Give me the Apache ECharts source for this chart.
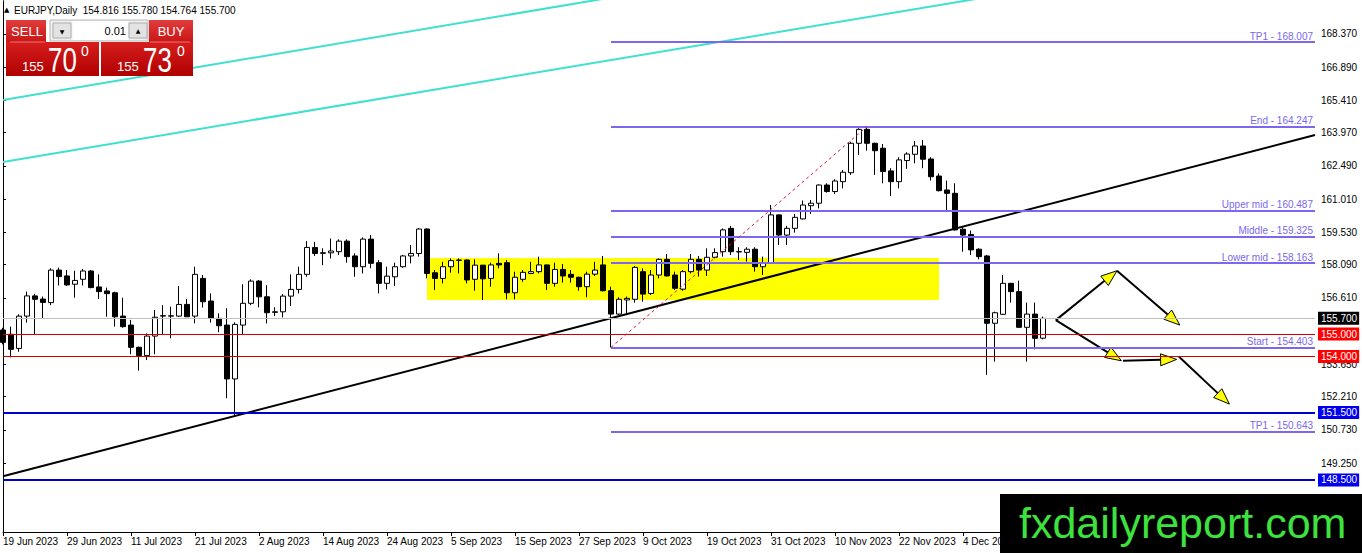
<!DOCTYPE html>
<html><head><meta charset="utf-8">
<script src="https://cdn.jsdelivr.net/npm/echarts@6/dist/echarts.min.js"></script>
<style>html,body{margin:0;padding:0;background:#fff}#c{width:1362px;height:553px}</style>
</head><body><div id="c"></div>
<script>
// ---------- DATA ----------
const tradingDays = [
'19 Jun 2023','20 Jun 2023','21 Jun 2023','22 Jun 2023','23 Jun 2023','26 Jun 2023','27 Jun 2023','28 Jun 2023','29 Jun 2023','30 Jun 2023',
'3 Jul 2023','4 Jul 2023','5 Jul 2023','6 Jul 2023','7 Jul 2023','10 Jul 2023','11 Jul 2023','12 Jul 2023','13 Jul 2023','14 Jul 2023',
'17 Jul 2023','18 Jul 2023','19 Jul 2023','20 Jul 2023','21 Jul 2023','24 Jul 2023','25 Jul 2023','26 Jul 2023','27 Jul 2023','28 Jul 2023','31 Jul 2023',
'1 Aug 2023','2 Aug 2023','3 Aug 2023','4 Aug 2023','7 Aug 2023','8 Aug 2023','9 Aug 2023','10 Aug 2023','11 Aug 2023','14 Aug 2023',
'15 Aug 2023','16 Aug 2023','17 Aug 2023','18 Aug 2023','21 Aug 2023','22 Aug 2023','23 Aug 2023','24 Aug 2023','25 Aug 2023','28 Aug 2023',
'29 Aug 2023','30 Aug 2023','31 Aug 2023',
'1 Sep 2023','4 Sep 2023','5 Sep 2023','6 Sep 2023','7 Sep 2023','8 Sep 2023','11 Sep 2023','12 Sep 2023','13 Sep 2023','14 Sep 2023',
'15 Sep 2023','18 Sep 2023','19 Sep 2023','20 Sep 2023','21 Sep 2023','22 Sep 2023','25 Sep 2023','26 Sep 2023','27 Sep 2023','28 Sep 2023','29 Sep 2023',
'2 Oct 2023','3 Oct 2023','4 Oct 2023','5 Oct 2023','6 Oct 2023','9 Oct 2023','10 Oct 2023','11 Oct 2023','12 Oct 2023','13 Oct 2023',
'16 Oct 2023','17 Oct 2023','18 Oct 2023','19 Oct 2023','20 Oct 2023','23 Oct 2023','24 Oct 2023','25 Oct 2023','26 Oct 2023','27 Oct 2023',
'30 Oct 2023','31 Oct 2023',
'1 Nov 2023','2 Nov 2023','3 Nov 2023','6 Nov 2023','7 Nov 2023','8 Nov 2023','9 Nov 2023','10 Nov 2023','13 Nov 2023','14 Nov 2023',
'15 Nov 2023','16 Nov 2023','17 Nov 2023','20 Nov 2023','21 Nov 2023','22 Nov 2023','23 Nov 2023','24 Nov 2023','27 Nov 2023','28 Nov 2023',
'29 Nov 2023','30 Nov 2023',
'1 Dec 2023','4 Dec 2023','5 Dec 2023','6 Dec 2023','7 Dec 2023','8 Dec 2023','11 Dec 2023','12 Dec 2023','13 Dec 2023','14 Dec 2023',
'15 Dec 2023','18 Dec 2023'
];
const openP = [
155.18,154.99,154.36,155.80,156.70,156.56,156.40,157.85,157.59,157.22,
157.44,157.81,157.10,156.92,156.84,155.80,155.40,154.41,154.04,154.91,
155.80,155.81,155.80,156.32,155.80,157.48,156.47,155.70,155.40,153.00,
155.40,156.37,157.36,156.66,155.99,155.99,156.69,156.99,157.66,158.86,
158.62,158.62,158.67,159.14,158.48,158.00,159.23,158.18,157.26,157.55,
158.00,158.48,158.59,159.68,157.73,157.48,158.00,158.28,158.30,157.44,
158.07,157.48,158.15,158.18,156.84,157.44,157.70,157.78,158.08,157.26,
157.88,157.66,157.53,157.11,157.67,158.08,156.93,155.89,156.52,156.55,
157.78,156.81,157.63,158.33,157.63,157.00,157.78,158.33,157.85,158.42,
158.67,159.71,158.67,158.64,158.78,158.00,158.18,160.31,159.41,159.71,
160.13,160.72,160.83,161.64,161.35,161.79,162.19,163.50,164.12,163.50,
163.28,162.27,161.79,162.73,163.01,163.38,162.80,162.04,161.42,161.27,
159.67,159.44,158.78,158.48,155.48,155.88,157.26,156.89,155.30,155.89,
154.816];
const highP = [
155.28,155.33,155.88,156.89,156.79,156.67,157.93,157.96,157.85,157.82,
157.90,157.85,157.66,157.07,156.89,156.62,155.63,154.44,155.03,156.07,
156.29,156.22,157.14,156.56,158.00,157.63,156.81,155.92,156.15,155.52,
157.22,157.44,157.41,157.18,156.19,156.78,157.66,158.00,159.14,159.11,
158.82,159.26,159.22,159.22,158.59,159.31,159.41,158.30,158.00,158.18,
158.52,158.97,159.72,159.71,157.85,158.22,158.37,158.37,158.33,158.33,
158.08,158.18,158.60,158.30,157.78,157.85,158.22,158.45,158.10,158.18,
158.12,157.85,157.56,157.78,158.22,158.48,157.11,156.64,156.67,158.03,
157.93,157.85,158.37,158.57,157.78,157.85,158.57,158.48,158.82,158.82,
159.71,159.82,158.87,158.87,158.87,158.45,160.75,160.33,159.82,160.35,
160.95,160.97,161.67,161.72,161.90,162.31,163.57,164.17,164.25,163.53,
163.47,162.39,162.88,163.10,163.60,163.65,162.88,162.16,161.84,161.72,
159.79,159.61,158.82,158.52,156.00,157.63,157.28,157.38,156.40,156.40,
155.78];
const lowP = [
154.54,153.96,154.21,155.51,155.00,155.70,156.29,157.16,157.14,156.62,
157.16,157.04,156.56,155.77,155.33,155.28,154.10,153.37,153.84,154.10,
154.96,154.81,155.77,155.76,155.48,156.18,155.51,155.08,152.14,151.32,
154.99,156.29,156.19,155.47,155.80,155.74,156.25,156.81,157.55,158.48,
158.07,158.37,158.52,158.18,157.55,157.70,157.93,156.81,156.99,157.14,
157.96,158.15,158.45,157.48,156.96,157.26,157.73,157.70,157.26,156.93,
156.52,157.11,157.93,156.55,156.55,157.33,157.67,157.70,156.96,157.11,
157.29,157.29,156.93,156.64,157.59,156.90,154.40,155.85,155.89,156.40,
156.44,156.74,157.48,157.56,156.96,156.93,157.70,157.56,157.59,158.37,
158.45,158.52,158.30,158.23,157.78,157.63,158.15,158.97,158.97,159.52,
160.11,160.35,160.60,161.30,161.24,161.49,162.09,162.98,163.17,162.09,
161.72,161.15,161.49,162.36,162.61,162.39,161.84,161.35,160.53,159.61,
158.67,158.52,158.33,153.18,153.77,155.85,156.40,155.28,153.77,154.32,
154.764];
const closeP = [
154.63,154.32,155.80,156.70,156.55,156.41,157.85,157.56,157.19,157.39,
157.81,157.07,156.89,156.80,155.77,155.33,154.41,154.04,154.91,155.75,
155.82,155.80,156.32,155.77,157.66,156.44,155.70,155.37,153.00,155.43,
156.37,157.36,156.66,155.95,155.97,156.69,156.99,157.66,158.86,158.59,
158.60,158.70,159.14,158.45,158.00,159.23,158.15,157.26,157.58,158.00,
158.48,158.59,159.68,157.70,157.48,158.00,158.27,158.30,157.41,158.07,
157.46,158.08,158.08,156.84,157.53,157.75,157.78,158.08,157.26,157.88,
157.59,157.53,157.11,157.67,157.85,156.93,155.89,156.55,156.59,157.97,
156.78,157.63,158.33,157.59,157.04,157.78,158.33,157.85,158.42,158.63,
159.64,158.67,158.66,158.78,158.00,158.15,160.31,159.41,159.71,160.20,
160.75,160.83,161.64,161.35,161.82,162.21,163.50,164.12,163.50,163.17,
162.24,161.79,162.76,163.02,163.38,162.79,162.01,161.39,161.27,159.64,
159.41,158.75,158.45,155.48,155.95,157.26,156.89,155.30,155.89,154.81,
155.70];
const yTickValues = [168.37,166.89,165.41,163.97,162.49,161.01,159.53,158.09,156.61,153.65,152.21,150.73,149.25];
const priceLevels = [155.70,155.00,154.00,151.50,148.50];
const fibLevels = [168.007,164.247,160.487,159.325,158.163,154.403,150.643];
const fibNames = ['TP1','End','Upper mid','Middle','Lower mid','Start','TP1'];
const fibStartIndex = 76;
const swingLine = [[76,154.403],[108,164.247]];
const zoneBox = [[53,158.39],[117,156.52]];
const trendBlack = [[0,148.66],[164,163.87]];
const trendCyanA = [[0,165.43],[164,175.28]];
const trendCyanB = [[0,162.67],[164,172.46]];
const arrowPaths = [
  [131.6,155.62,139.25,157.82],
  [139.25,157.82,147.1,155.40],
  [131.6,155.62,139.8,153.81],
  [140.0,153.81,146.7,153.87],
  [147.0,153.99,153.3,151.88]
];
const lastLabelIndex = 120;
const headerText = 'EURJPY,Daily  154.816 155.780 154.764 155.700';

// ---------- CHART ----------
const FONT = 'Liberation Sans, Arial, sans-serif';
const X_MAX = 164;
const candleData = tradingDays.map((d,i)=>[i, openP[i], closeP[i], lowP[i], highP[i]]);
const levelStyle = [
  {color:'#c0c0c0', width:1, bg:'#000000'},
  {color:'#d00000', width:1, bg:'#ff0000'},
  {color:'#d00000', width:1, bg:'#ff0000'},
  {color:'#0000cd', width:2, bg:'#0000ee'},
  {color:'#0000cd', width:2, bg:'#0000ee'}
];
const markLineData = [];
priceLevels.forEach((v,k)=>{
  const s = levelStyle[k];
  markLineData.push({yAxis:v, lineStyle:{color:s.color,width:s.width,type:'solid'},
    label:{show:true, position:'end', distance:3, formatter:v.toFixed(3), backgroundColor:s.bg, color:'#fff',
      padding:[2,2,1,3], fontSize:10, fontFamily:FONT}});
});
fibLevels.forEach((v,k)=>{
  markLineData.push([
    {coord:[fibStartIndex,v], lineStyle:{color:'#7b68ee',width:2,type:'solid'},
     label:{show:true, position:'insideEndTop', distance:[2,1], formatter:fibNames[k]+' - '+v.toFixed(3),
       color:'#7b68ee', fontSize:10, fontFamily:FONT}},
    {coord:[X_MAX,v]}
  ]);
});
markLineData.push([
  {coord:swingLine[0], lineStyle:{color:'#dc143c',width:1,type:[3,3]}, label:{show:false}},
  {coord:swingLine[1]}
]);

const redTop = new echarts.graphic.LinearGradient(0,0,0,1,[{offset:0,color:'#e23c3c'},{offset:1,color:'#c81616'}]);
const redPanel = new echarts.graphic.LinearGradient(0,0,0,1,[{offset:0,color:'#d61e1e'},{offset:1,color:'#b00000'}]);
const txt = (t,x,y,size,opt,sx)=>({type:'text', z:101, x:x, y:y, scaleX:sx||1, originX:0, originY:0,
  style:Object.assign({text:t,x:0,y:0,fill:'#fff',fontSize:size,fontFamily:FONT,align:'left',verticalAlign:'middle'},opt||{})});

const graphics = [
  txt('▲',4,10,7,{fill:'#000',fontFamily:'DejaVu Sans'}),
  txt(headerText,14,10.5,10,{fill:'#000'}),
  {type:'rect', z:100, shape:{x:6,y:20,width:40,height:22}, style:{fill:redTop}},
  {type:'rect', z:100, shape:{x:149,y:20,width:44,height:22}, style:{fill:redTop}},
  {type:'rect', z:100, shape:{x:50,y:20,width:98,height:21}, style:{fill:'#efefef',stroke:'#b8b8b8',lineWidth:1}},
  {type:'rect', z:100, shape:{x:53,y:23,width:18,height:15}, style:{fill:'#e3e3e3',stroke:'#adadad',lineWidth:1}},
  {type:'rect', z:100, shape:{x:72.5,y:21,width:55.5,height:19}, style:{fill:'#ffffff'}},
  {type:'rect', z:100, shape:{x:129,y:23,width:18,height:15}, style:{fill:'#e3e3e3',stroke:'#adadad',lineWidth:1}},
  txt('▼',62,31,6,{fill:'#000',align:'center',fontFamily:'DejaVu Sans'}),
  txt('▲',138,30.5,6,{fill:'#000',align:'center',fontFamily:'DejaVu Sans'}),
  txt('0.01',126,31,11,{fill:'#000',align:'right'}),
  txt('SELL',27,31,13,{align:'center'}),
  txt('BUY',171,31,13,{align:'center'}),
  {type:'rect', z:100, shape:{x:6,y:42,width:93,height:34}, style:{fill:redPanel}},
  {type:'rect', z:100, shape:{x:101,y:42,width:92,height:34}, style:{fill:redPanel}},
  {type:'line', z:101, shape:{x1:10,y1:42,x2:45,y2:42}, style:{stroke:'#f07070',lineWidth:1}},
  {type:'line', z:101, shape:{x1:150,y1:42,x2:190,y2:42}, style:{stroke:'#f07070',lineWidth:1}},
  txt('155',22,66,13),
  txt('70',48,60,36,null,0.72),
  txt('0',81,51,14),
  txt('155',117,66,13),
  txt('73',143,60,36,null,0.72),
  txt('0',177,51,14),
  {type:'rect', z:100, shape:{x:1000,y:494,width:362,height:59}, style:{fill:'#000'}},
  txt('fxdailyreport.com',1019,523,43,{fill:'#3ee23e'})
];

const option = {
  animation:false,
  backgroundColor:'#ffffff',
  grid:{left:3,right:47,top:1,bottom:21,containLabel:false,outerBoundsMode:'none'},
  xAxis:{type:'value',min:0,max:X_MAX,interval:8,
    axisLine:{show:true,lineStyle:{color:'#000',width:1}},
    axisTick:{show:true,length:4,lineStyle:{color:'#000'}},
    splitLine:{show:false},
    axisLabel:{show:true,align:'left',margin:4,color:'#000',fontSize:10,fontFamily:FONT,showMaxLabel:false,
      formatter:(v)=> (v <= lastLabelIndex ? (tradingDays[v] || '') : '')}
  },
  yAxis:[
    {type:'value',position:'right',min:146.18,max:169.84,
      axisLine:{show:true,lineStyle:{color:'#000',width:1}},
      axisTick:{show:true,length:3,customValues:yTickValues,lineStyle:{color:'#000'}},
      splitLine:{show:false},
      axisLabel:{show:true,customValues:yTickValues,margin:6,color:'#000',fontSize:10,fontFamily:FONT,
        formatter:(v)=>v.toFixed(3)}
    },
    {type:'value',position:'left',min:146.18,max:169.84,
      axisLine:{show:true,onZero:false,lineStyle:{color:'#000',width:1}},
      axisTick:{show:false},axisLabel:{show:false},splitLine:{show:false}}
  ],
  graphic:{elements:graphics},
  series:[
    {type:'line', name:'cyanA', z:1, data:trendCyanA, symbol:'none', lineStyle:{color:'#40e0d0',width:2}, clip:true, silent:true,
      markArea:{silent:true, itemStyle:{color:'#ffff00',opacity:1}, data:[[{coord:zoneBox[0]},{coord:zoneBox[1]}]]}},
    {type:'line', name:'cyanB', z:1, data:trendCyanB, symbol:'none', lineStyle:{color:'#40e0d0',width:2}, clip:true, silent:true},
    {type:'candlestick', name:'EURJPY', z:2, data:candleData, barWidth:5, clip:true,
      itemStyle:{color:'#ffffff',color0:'#000000',borderColor:'#000000',borderColor0:'#000000',borderWidth:1}},
    {type:'line', name:'trend', z:3, data:trendBlack, symbol:'none', lineStyle:{color:'#000',width:2}, clip:true, silent:true,
      markLine:{silent:true, symbol:['none','none'], label:{show:false}, data:markLineData}},
    {type:'custom', name:'arrows', z:4, clip:false, silent:true, data:arrowPaths,
      encode:{x:[0,2],y:[1,3]},
      renderItem:function(params, api){
        const p1 = api.coord([api.value(0), api.value(1)]);
        const p2 = api.coord([api.value(2), api.value(3)]);
        const dx=p2[0]-p1[0], dy=p2[1]-p1[1], len=Math.hypot(dx,dy), ux=dx/len, uy=dy/len;
        const L=16, W=6;
        const bx=p2[0]-ux*L, by=p2[1]-uy*L;
        return {type:'group', children:[
          {type:'line', shape:{x1:p1[0],y1:p1[1],x2:bx,y2:by}, style:{stroke:'#000',lineWidth:2}},
          {type:'polygon', shape:{points:[[p2[0],p2[1]],[bx-uy*W,by+ux*W],[bx+uy*W,by-ux*W]]}, style:{fill:'#ffff00',stroke:'#000',lineWidth:1}}
        ]};
      }}
  ]
};
const chart = echarts.init(document.getElementById('c'), null, {renderer:'svg'});
chart.setOption(option);
</script>
</body></html>
